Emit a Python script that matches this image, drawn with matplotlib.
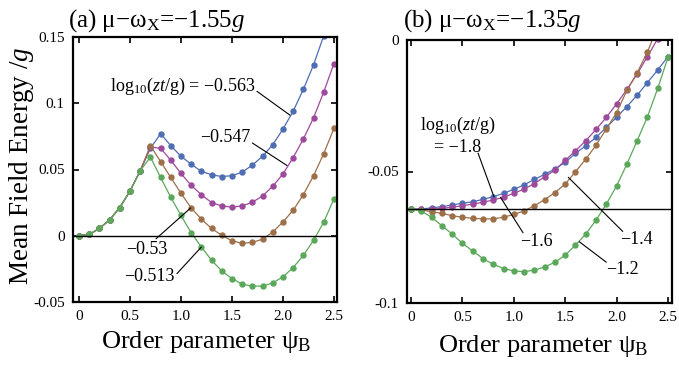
import matplotlib
matplotlib.use("Agg")
import matplotlib.pyplot as plt

plt.rcParams['font.family'] = ['Liberation Serif', 'DejaVu Serif']
plt.rcParams['mathtext.fontset'] = 'custom'
plt.rcParams['mathtext.rm'] = 'Liberation Serif'
plt.rcParams['mathtext.it'] = 'Liberation Serif:italic'

psi = [0.0, 0.1, 0.2, 0.3, 0.4, 0.5, 0.6, 0.7, 0.8, 0.9, 1.0, 1.1, 1.2,
       1.3, 1.4, 1.5, 1.6, 1.7, 1.8, 1.9, 2.0, 2.1, 2.2, 2.3, 2.4, 2.5]

# panel (a): mu - omega_X = -1.55 g
blue_a = [0, 0.001, 0.0055, 0.012, 0.0213, 0.0338, 0.049, 0.066, 0.077, 0.068,
          0.060, 0.054, 0.0486, 0.046, 0.0447, 0.0453, 0.048, 0.0533, 0.060,
          0.0687, 0.0805, 0.094, 0.1105, 0.129, 0.151, 0.174]
purple_a = [0, 0.001, 0.0055, 0.012, 0.0213, 0.0338, 0.049, 0.067, 0.066, 0.057,
            0.047, 0.038, 0.031, 0.025, 0.0225, 0.0216, 0.0225, 0.0253, 0.030,
            0.0374, 0.0466, 0.059, 0.073, 0.089, 0.1085, 0.130]
brown_a = [0, 0.001, 0.0055, 0.012, 0.0213, 0.0338, 0.049, 0.068, 0.056, 0.044,
           0.032, 0.021, 0.0125, 0.0055, 0.0003, -0.0038, -0.0057, -0.005,
           -0.0026, 0.0028, 0.0104, 0.0192, 0.031, 0.0453, 0.062, 0.081]
green_a = [0, 0.001, 0.0055, 0.012, 0.0213, 0.0338, 0.049, 0.0594, 0.044, 0.029,
           0.0153, 0.0023, -0.0085, -0.0185, -0.0266, -0.0323, -0.0366, -0.038,
           -0.038, -0.0356, -0.031, -0.024, -0.0148, -0.0035, 0.0103, 0.0278]

# panel (b): mu - omega_X = -1.35 g
blue_b = [-0.0643, -0.0643, -0.0638, -0.0634, -0.0627, -0.0621, -0.0615, -0.0606,
          -0.0596, -0.0583, -0.0568, -0.0551, -0.053, -0.0511, -0.049, -0.0465,
          -0.0431, -0.0402, -0.037, -0.0332, -0.0294, -0.0253, -0.021, -0.0162,
          -0.0114, -0.0063]
purple_b = [-0.0643, -0.0644, -0.0644, -0.064, -0.0636, -0.063, -0.0624, -0.0617,
            -0.0608, -0.0598, -0.0583, -0.0567, -0.0546, -0.052, -0.0495, -0.0458,
            -0.0421, -0.0383, -0.034, -0.0294, -0.0243, -0.0188, -0.0129, -0.0063,
            0.0005, 0.0075]
brown_b = [-0.0643, -0.0646, -0.0653, -0.0659, -0.0668, -0.0674, -0.0678, -0.068,
           -0.068, -0.0674, -0.0663, -0.065, -0.063, -0.0607, -0.058, -0.0548,
           -0.0501, -0.0453, -0.04, -0.0338, -0.0276, -0.0192, -0.0125, -0.0045,
           0.005, 0.016]
green_b = [-0.0643, -0.065, -0.0674, -0.0706, -0.0738, -0.0773, -0.0802, -0.0831,
           -0.0853, -0.0869, -0.0878, -0.0881, -0.0875, -0.0863, -0.0845, -0.0818,
           -0.078, -0.0738, -0.0685, -0.0624, -0.0555, -0.0472, -0.0383, -0.0292,
           -0.0184, -0.0066]

colors = ['#4f6db3', '#9d4a9c', '#9d7049', '#5ba85b']
x_ticks = [0, 0.5, 1.0, 1.5, 2.0, 2.5]
x_ticklabels = ['0', '0.5', '1.0', '1.5', '2.0', '2.5']

fig = plt.figure(figsize=(6.79, 3.69), dpi=100)
ax1 = fig.add_axes([73/679, 1-302/369, 264/679, 265/369])
ax2 = fig.add_axes([407/679, 1-303/369, 265/679, 263/369])


def style(ax):
    for s in ax.spines.values():
        s.set_linewidth(1.6)
    ax.tick_params(direction='in', top=True, right=True, length=4, width=1.2,
                   labelsize=11, pad=6)
    ax.set_xticks(x_ticks)
    ax.set_xticklabels(x_ticklabels)


for ys, c in zip([blue_a, purple_a, brown_a, green_a], colors):
    ax1.plot(psi, ys, '-o', color=c, lw=0.9, ms=4.6, mec='none')
ax1.axhline(0, color='black', lw=1)
ax1.set_xlim(-0.059, 2.53)
ax1.set_ylim(-0.05, 0.15)
style(ax1)
ax1.set_yticks([-0.05, 0, 0.05, 0.1, 0.15])
ax1.set_yticklabels(['-0.05', '0', '0.05', '0.1', '0.15'])

for ys, c in zip([blue_b, purple_b, brown_b, green_b], colors):
    ax2.plot(psi, ys, '-o', color=c, lw=0.9, ms=4.6, mec='none')
ax2.axhline(blue_b[0], color='black', lw=1)
ax2.set_xlim(-0.039, 2.539)
ax2.set_ylim(-0.1, 0)
style(ax2)
ax2.set_yticks([-0.1, -0.05, 0])
ax2.set_yticklabels(['-0.1', '-0.05', '0'])

lab = r'$\mathrm{log}_{10}(zt/\mathrm{g})$'
line = dict(arrowstyle='-', lw=0.8, color='black', shrinkA=0, shrinkB=0)

# panel (a) labels
ax1.text(1.725, 0.1128, lab + ' = \u22120.563', fontsize=13, ha='right', va='center')
ax1.annotate('', xy=(2.069, 0.091), xytext=(1.745, 0.109), arrowprops=line)
ax1.text(1.68, 0.0744, '\u22120.547', fontsize=13, ha='right', va='center')
ax1.annotate('', xy=(2.04, 0.053), xytext=(1.70, 0.070), arrowprops=line)
ax1.text(0.667, -0.0105, '\u22120.53', fontsize=13, ha='center', va='center')
ax1.annotate('', xy=(1.095, 0.021), xytext=(0.755, -0.0023), arrowprops=line)
ax1.text(0.69, -0.0308, '\u22120.513', fontsize=13, ha='center', va='center')
ax1.annotate('', xy=(1.2, -0.0085), xytext=(0.96, -0.0286), arrowprops=line)

# panel (b) labels
ax2.text(0.457, -0.0363, lab + '\n= \u22121.8', fontsize=13, ha='center',
         va='center', linespacing=1.25)
ax2.annotate('', xy=(0.807, -0.0596), xytext=(0.652, -0.043), arrowprops=line)
ax2.text(1.22, -0.0766, '\u22121.6', fontsize=13, ha='center', va='center')
ax2.annotate('', xy=(0.87, -0.0598), xytext=(1.09, -0.0733), arrowprops=line)
ax2.text(2.19, -0.0757, '\u22121.4', fontsize=13, ha='center', va='center')
ax2.annotate('', xy=(1.53, -0.0522), xytext=(2.06, -0.0728), arrowprops=line)
ax2.text(2.06, -0.0871, '\u22121.2', fontsize=13, ha='center', va='center')
ax2.annotate('', xy=(1.637, -0.0767), xytext=(1.90, -0.0845), arrowprops=line)

# titles and axis labels
fig.text(68/679, 1-27/369, '(a) \u03bc\u2212\u03c9$_\\mathrm{X}$=\u22121.55$g$',
         fontsize=18, ha='left', va='baseline')
fig.text(403/679, 1-27/369, '(b) \u03bc\u2212\u03c9$_\\mathrm{X}$=\u22121.35$g$',
         fontsize=18, ha='left', va='baseline')
fig.text(22/679, 1-166/369, 'Mean Field Energy /$g$', fontsize=19.5,
         rotation=90, ha='center', va='center')
fig.text(206/679, 1-348/369, 'Order parameter \u03c8$_\\mathrm{B}$', fontsize=19,
         ha='center', va='baseline')
fig.text(543/679, 1-352/369, 'Order parameter \u03c8$_\\mathrm{B}$', fontsize=19,
         ha='center', va='baseline')

fig.savefig('out.png', dpi=100)
